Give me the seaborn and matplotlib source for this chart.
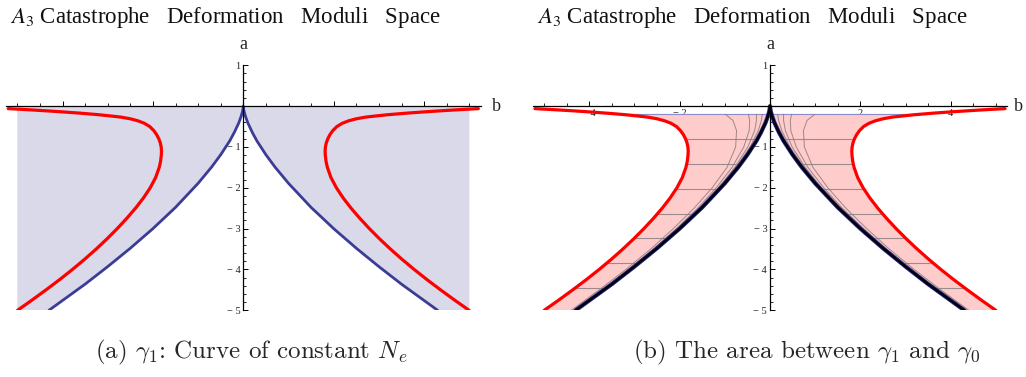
import matplotlib
matplotlib.use("Agg")
import matplotlib.pyplot as plt
import seaborn as sns
from matplotlib.ticker import MultipleLocator

# ---------------- data ----------------
# cusp curve gamma_0 (right branch, b >= 0); left branch is the mirror image
cusp_b = [0.0, 0.01, 0.02, 0.05, 0.1, 0.2, 0.3, 0.5, 0.7, 1.0, 1.5, 2.0, 2.5, 3.0, 3.5, 4.0, 4.3]
cusp_a = [0.0, -0.088, -0.139, -0.256, -0.41, -0.646, -0.85, -1.19, -1.49, -1.89, -2.48,
          -3.0, -3.48, -3.93, -4.36, -4.76, -5.0]

# red curve gamma_1 (right branch); left branch is the mirror image
red_b = [5.20, 4.95, 4.65, 4.30, 4.00, 3.60, 3.20, 2.90, 2.70, 2.50, 2.33, 2.19, 2.07, 1.98,
         1.916, 1.869, 1.836, 1.817, 1.810, 1.814, 1.83, 1.86, 1.94, 2.06, 2.21, 2.385, 2.58,
         2.79, 3.015, 3.255, 3.51, 3.78, 4.065, 4.365, 4.675, 4.995]
red_a = [-0.061, -0.076, -0.095, -0.119, -0.141, -0.173, -0.21, -0.245, -0.27, -0.31, -0.36,
         -0.42, -0.50, -0.60, -0.70, -0.80, -0.90, -1.00, -1.10, -1.20, -1.35, -1.50, -1.75,
         -2.00, -2.25, -2.50, -2.75, -3.00, -3.25, -3.50, -3.75, -4.00, -4.25, -4.50, -4.75,
         -5.00]

# top edge of the shaded band in panel (b): level and the b values where it meets the curves
band_top = -0.19
band_top_b = [0.03, 3.35]

# mesh lines (constant a) inside the shaded band of panel (b)
mesh_levels = [-0.80, -1.41, -2.02, -2.63, -3.24, -3.85, -4.46]

# grey contour curves of panel (b) (right branch)
contour_a = [-0.19, -0.35, -0.6, -1.0, -1.5, -2.0, -2.5, -3.0, -3.5, -4.0, -4.5, -5.0]
contour_b1 = [1.00, 0.82, 0.74, 0.76, 0.95, 1.28, 1.68, 2.14, 2.64, 3.19, 3.78, 4.40]
contour_b2 = [0.48, 0.45, 0.46, 0.58, 0.84, 1.19, 1.60, 2.07, 2.58, 3.13, 3.72, 4.35]
contour_b3 = [0.30, 0.30, 0.34, 0.49, 0.78, 1.14, 1.56, 2.04, 2.55, 3.11, 3.70, 4.33]
contour_b4 = [0.17, 0.19, 0.26, 0.44, 0.75, 1.12, 1.54, 2.02, 2.54, 3.10, 3.69, 4.32]

xtick_vals = [-4, -2, 2, 4]
xtick_labels = ["\u2212 4", "\u2212 2", "2", "4"]
ytick_vals = [1, -1, -2, -3, -4, -5]
ytick_labels = ["1", "\u2212 1", "\u2212 2", "\u2212 3", "\u2212 4", "\u2212 5"]

title_text = r"$A_3$ Catastrophe   Deformation   Moduli   Space"
caption_a = r"(a) $\gamma_1$: Curve of constant $N_e$"
caption_b = r"(b) The area between $\gamma_1$ and $\gamma_0$"

# ---------------- style ----------------
sns.set_theme(style="ticks")
plt.rcParams["font.family"] = ["Liberation Serif", "DejaVu Serif"]

W, H = 1026, 377
fig = plt.figure(figsize=(W / 100, H / 100), dpi=100)
fig.patch.set_facecolor("white")

ax_w = 474.6 / W
ax_h = 245.0 / H
ax_bot = 1 - 310.3 / H
axA = fig.add_axes([6.0 / W, ax_bot, ax_w, ax_h])
axB = fig.add_axes([532.7 / W, ax_bot, ax_w, ax_h])


def style_axes(ax, b_label_x):
    ax.set_xlim(-5.25, 5.25)
    ax.set_ylim(-5, 1)
    ax.set_facecolor("none")
    for s in ["top", "right"]:
        ax.spines[s].set_visible(False)
    ax.spines["left"].set_position(("data", 0))
    ax.spines["bottom"].set_position(("data", 0))
    for s in ["left", "bottom"]:
        ax.spines[s].set_color("black")
        ax.spines[s].set_linewidth(0.9)
        ax.spines[s].set_zorder(5)
    ax.set_xticks(xtick_vals, labels=xtick_labels)
    ax.set_yticks(ytick_vals, labels=ytick_labels)
    ax.xaxis.set_minor_locator(MultipleLocator(0.5))
    ax.yaxis.set_minor_locator(MultipleLocator(0.2))
    ax.tick_params(axis="both", which="both", direction="in", color="black",
                   labelsize=7.5, labelcolor="#222222", bottom=True, left=True)
    ax.tick_params(which="major", length=3.5, width=0.7)
    ax.tick_params(which="minor", length=2.0, width=0.6)
    ax.tick_params(axis="x", pad=2)
    ax.tick_params(axis="y", pad=2)
    ax.text(0, 1.5, "a", ha="center", va="center", fontsize=13, clip_on=False)
    ax.text(b_label_x, 0, "b", ha="center", va="center", fontsize=13, clip_on=False)
    ax.set_xlabel("")
    ax.set_ylabel("")


neg = lambda seq: [-v for v in seq]

# full cusp (left branch bottom->tip, then right branch tip->bottom)
cusp_full_b = neg(cusp_b[::-1]) + cusp_b[1:]
cusp_full_a = cusp_a[::-1] + cusp_a[1:]

# ---------------- panel (a) ----------------
polyA_x = [-5, -5] + cusp_full_b + [5, 5]
polyA_y = [0, -5] + cusp_full_a + [-5, 0]
axA.fill(polyA_x, polyA_y, color="#d9d9ea", lw=0, zorder=1)
sns.lineplot(x=cusp_full_b, y=cusp_full_a, sort=False, estimator=None,
             color="#3c3c96", lw=2.0, ax=axA, zorder=3)
for sgn in (1, -1):
    sns.lineplot(x=[sgn * v for v in red_b], y=red_a, sort=False, estimator=None,
                 color="#ff0000", lw=2.3, ax=axA, zorder=4)
style_axes(axA, 5.61)

# ---------------- panel (b) ----------------
cb = [b for b, a in zip(cusp_b, cusp_a) if a < band_top]
ca = [a for a in cusp_a if a < band_top]
rb = [b for b, a in zip(red_b, red_a) if a < band_top]
ra = [a for a in red_a if a < band_top]
patches = []
for sgn in (1, -1):
    px = [sgn * band_top_b[0]] + [sgn * v for v in cb] + [sgn * v for v in rb[::-1]] + [sgn * band_top_b[1]]
    py = [band_top] + ca + ra[::-1] + [band_top]
    patch = axB.fill(px, py, color="#ffcccc", lw=0, zorder=1)[0]
    patches.append(patch)
    # thin bluish top edge of the band
    axB.plot([sgn * band_top_b[0], sgn * band_top_b[1]], [band_top, band_top],
             color="#8c8cc8", lw=0.8, zorder=2)

for patch in patches:
    hl = axB.hlines(mesh_levels, -6, 6, colors="#9a8c8c", lw=0.8, zorder=2)
    hl.set_clip_path(patch)
    for cbv in (contour_b1, contour_b2, contour_b3, contour_b4):
        for sgn in (1, -1):
            ln, = axB.plot([sgn * v for v in cbv], contour_a, color="#8c7c7c",
                           lw=0.7, alpha=0.85, zorder=2)
            ln.set_clip_path(patch)

sns.lineplot(x=cusp_full_b, y=cusp_full_a, sort=False, estimator=None,
             color="#2a2a80", lw=3.0, ax=axB, zorder=3)
sns.lineplot(x=cusp_full_b, y=cusp_full_a, sort=False, estimator=None,
             color="#000010", lw=1.8, ax=axB, zorder=3)
for sgn in (1, -1):
    sns.lineplot(x=[sgn * v for v in red_b], y=red_a, sort=False, estimator=None,
                 color="#ff0000", lw=2.3, ax=axB, zorder=4)
style_axes(axB, 5.5)

# ---------------- titles and captions ----------------
for x0 in (10 / W, 537 / W):
    fig.text(x0, 1 - 18 / H, title_text, fontsize=16.5, ha="left", va="center",
             math_fontfamily="stix", color="#111111")

fig.text(251 / W, 1 - 352 / H, caption_a, fontsize=18, ha="center", va="center",
         family="cmr10", math_fontfamily="cm")
fig.text(807 / W, 1 - 352 / H, caption_b, fontsize=18, ha="center", va="center",
         family="cmr10", math_fontfamily="cm")

fig.savefig("out.png", dpi=100, facecolor="white")
